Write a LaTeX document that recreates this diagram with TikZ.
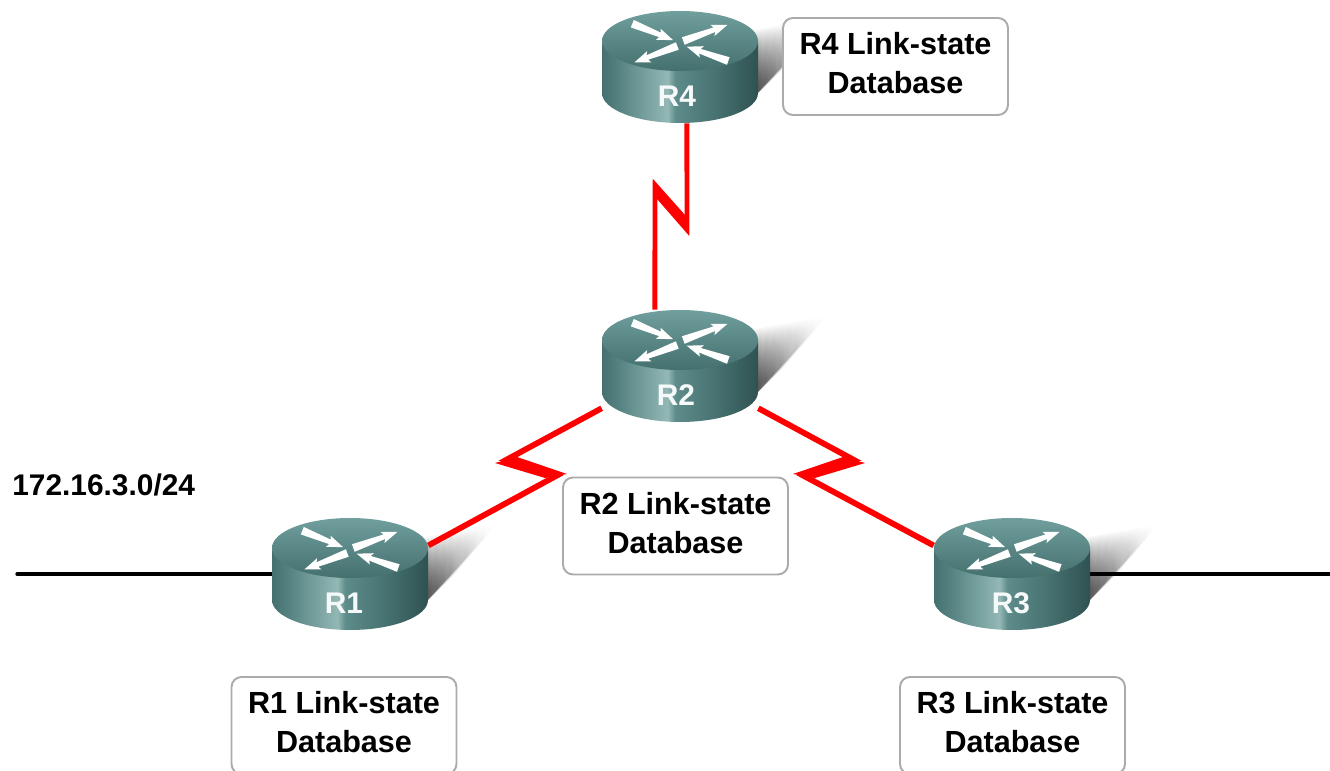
\documentclass[tikz,border=0pt]{standalone}
\usepackage{fontspec}
\setmainfont{Liberation Sans}
\usetikzlibrary{fadings}

\definecolor{routerA}{HTML}{44706F}
\definecolor{routerB}{HTML}{5F8C8A}
\definecolor{routerC}{HTML}{93B8B5}
\definecolor{routerD}{HTML}{5E8C8A}
\definecolor{routerE}{HTML}{477372}
\definecolor{routerF}{HTML}{2F5251}
\definecolor{routerTop}{HTML}{709F9E}
\definecolor{routerLow}{HTML}{44706E}
\definecolor{boxline}{HTML}{ABABAB}

\pgfdeclarehorizontalshading{routerside}{100bp}{
    color(0bp)=(routerA); color(25bp)=(routerA); color(33bp)=(routerB);
    color(46bp)=(routerC); color(48.5bp)=(routerD); color(61bp)=(routerE);
    color(75bp)=(routerF); color(100bp)=(routerF)}

% tail x, tail y, angle, length
\newcommand{\routerarrow}[4]{
    \fill[white, shift={(#1, #2)}, rotate=#3] (0, -4) -- (#4-14, -2.4) -- (#4-16, -6)
        -- (#4, 0) -- (#4-16, 6) -- (#4-14, 2.4) -- (0, 4) -- cycle;
}

\tikzset{
    routerbox/.style={inner sep=0, minimum width=3.12cm, minimum height=2.24cm},
    routername/.style={inner sep=0, text=white!92!routerC, font=\bfseries\fontsize{17}{20}\selectfont},
    dbbox/.style={draw=boxline, line width=1.1pt, fill=white, rounded corners=0.2cm,
        minimum width=4.5cm, minimum height=1.94cm},
    dbtext/.style={inner sep=0, align=center, font=\bfseries\fontsize{17.4}{22}\selectfont},
    serial/.style={red, line width=3.3pt, miter limit=12},
    lan/.style={black, line width=1.9pt},
    pics/routershadow/.style={code={
        \foreach \k in {0,...,29}
            \fill[black, opacity=0.04, path fading=east] (70, {36-2*\k}) -- ({147-1.3*\k}, {50-1.6*\k}) -- (74, -30) -- cycle;
    }},
    pics/routerbody/.style={code={
        \shade[shading=routerside] (-78, 26) -- (-78, -26) arc (180:360:78 and 30) -- (78, 26) -- cycle;
        \shade[top color=routerTop, bottom color=routerLow] (0, 26) ellipse [x radius=78, y radius=30];
        \routerarrow{-47.7}{43.3}{-22}{44}
        \routerarrow{3.3}{26}{20}{47}
        \routerarrow{-2.7}{21}{201}{46}
        \routerarrow{48.3}{6}{161}{44}
    }}
}

\begin{document}
\begin{tikzpicture}[x=0.02cm, y=0.02cm]
    \useasboundingbox (0, 0) rectangle (1330, 771);

    % routers first, so the links can use their names
    \foreach \name/\pos in {R1/{350, 197}, R2/{680, 405}, R3/{1012, 197}, R4/{680, 704}} {
        \node[routerbox] (\name) at (\pos) {};
        \path (\pos) pic {routershadow};
    }

    \coordinate (lan1) at (17, 197);
    \coordinate (lan3) at (1330, 197);
    \coordinate (zig41) at (687, 543);
    \coordinate (zig42) at (655, 584);
    \coordinate (zig11) at (506, 311);
    \coordinate (zig12) at (556, 295);
    \coordinate (zig31) at (854, 311);
    \coordinate (zig32) at (804, 295);

    \draw[serial, line width=2.8pt] (R4.277) -- (zig41) -- (zig42) -- (R2.114);
    \draw[serial] (R2) -- (zig11) -- (zig12) -- (R1.20);
    \draw[serial] (R2) -- (zig31) -- (zig32) -- (R3.160);
    \fill[red] (652.7, 592.3) -- (685, 556) -- (689.3, 535) -- (657.3, 571.7) -- cycle;
    \fill[red] (517, 314) -- (567, 297) -- (545, 293) -- (495, 308) -- cycle;
    \fill[red] (843, 314) -- (793, 297) -- (815, 293) -- (865, 308) -- cycle;
    \draw[lan, line cap=round] (lan1) -- (R1.west);
    \draw[lan] (R3.east) -- (lan3);

    \foreach \name/\pos/\dx in {R1/{350, 197}/-6, R2/{680, 405}/-4, R3/{1012, 197}/-1, R4/{680, 704}/-3} {
        \path (\pos) pic {routerbody};
        \node[routername] (\name name) at ([shift={(\dx, -29)}]\name) {\name};
    }

    \node[dbbox] (db1) at (344, 45.5) {};
    \node[dbbox] (db2) at (675.5, 245) {};
    \node[dbbox] (db3) at (1012.5, 45.5) {};
    \node[dbbox] (db4) at (895.5, 704.5) {};
    \node[dbtext] (db1text) at ([yshift=1.8pt]db1) {R1 Link-state\\Database};
    \node[dbtext] (db2text) at ([yshift=1.8pt]db2) {R2 Link-state\\Database};
    \node[dbtext] (db3text) at ([yshift=1.8pt]db3) {R3 Link-state\\Database};
    \node[dbtext] (db4text) at ([yshift=1.8pt]db4) {R4 Link-state\\Database};

    \node[inner sep=0, anchor=west, font=\bfseries\fontsize{17}{21}\selectfont] (subnet) at (12, 286) {172.16.3.0/24};
\end{tikzpicture}
\end{document}
